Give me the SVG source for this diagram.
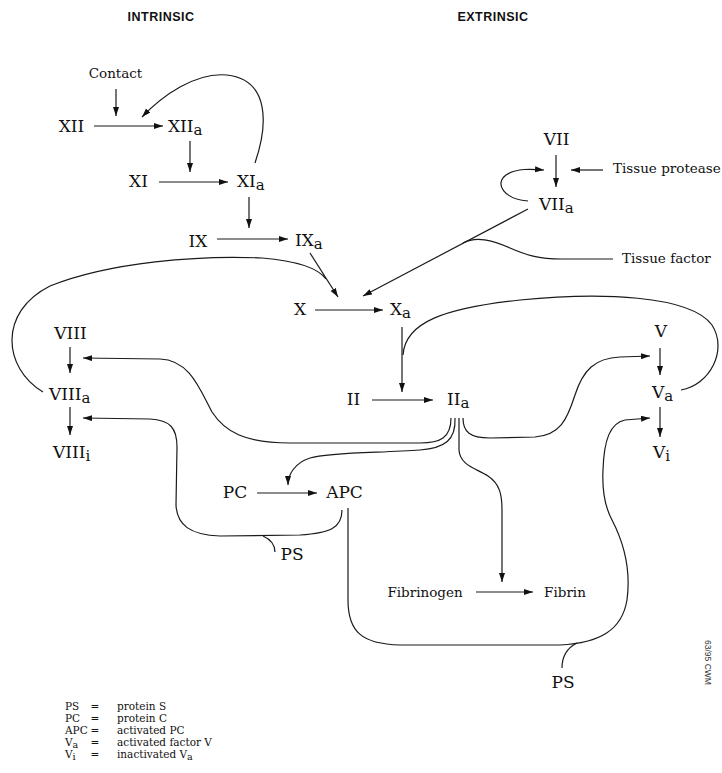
<svg xmlns="http://www.w3.org/2000/svg" width="722" height="773" viewBox="0 0 722 773">
<defs>
<marker id="ah" markerUnits="userSpaceOnUse" markerWidth="10" markerHeight="8" refX="9" refY="3" orient="auto">
<path d="M0,0 L9,3 L0,6 z" fill="#111"/>
</marker>
<style>
.n{font-family:"DejaVu Serif","Liberation Serif",serif;font-size:17px;fill:#111}
.w{font-family:"DejaVu Serif","Liberation Serif",serif;font-size:13.5px;fill:#111}
.h{font-family:"Liberation Sans",Arial,sans-serif;font-size:12.5px;font-weight:bold;letter-spacing:0.5px;fill:#111}
.lg{font-family:"DejaVu Serif","Liberation Serif",serif;font-size:10.5px;fill:#111}
.s{font-size:15px}
.ls{font-size:9.5px}
.c path{fill:none;stroke:#1a1a1a;stroke-width:1.2}
.c .a{marker-end:url(#ah)}
</style>
</defs>
<rect width="722" height="773" fill="#fff"/>

<g id="headers">
<text class="h" x="161" y="21" text-anchor="middle">INTRINSIC</text>
<text class="h" x="493" y="21" text-anchor="middle">EXTRINSIC</text>
</g>

<g class="c" id="connectors">
<path class="a" d="M116,89 V116"/>
<path class="a" d="M94,126 H163"/>
<path class="a" d="M255,163 C268,125 270,80 227,75 C195,72 162,96 142,117"/>
<path class="a" d="M190,141 V172"/>
<path class="a" d="M159,182 H228"/>
<path class="a" d="M249,197 V228"/>
<path class="a" d="M217,239 H288"/>
<path class="a" d="M310,253 L338,297"/>
<path d="M43,392 C3,368 -2,312 50,286 C110,262 200,255 262,258 C298,261 318,268 326,279"/>
<path class="a" d="M528,209 L363,296"/>
<path d="M463,243 C476,236 492,240 510,248 C526,255 538,259 562,259 H613"/>
<path class="a" d="M556,155 V187"/>
<path class="a" d="M603,170 H571"/>
<path class="a" d="M528,201 C504,199 494,184 506,175 C516,168 532,169 544,170"/>
<path class="a" d="M315,310 H383"/>
<path class="a" d="M402,327 V392"/>
<path d="M403,355 C405,322 445,308 520,300 C600,292 690,295 712,325 C728,350 710,385 681,390"/>
<path class="a" d="M660,348 V375"/>
<path class="a" d="M660,407 V437"/>
<path class="a" d="M372,400 H433"/>
<path class="a" d="M70,347 V373"/>
<path class="a" d="M70,407 V435"/>
<path class="a" d="M451,418 C451,438 440,443 420,443 L290,443 C245,443 225,432 212,412 C200,390 190,360 160,359 L83,358"/>
<path class="a" d="M455,418 C456,440 445,448 420,450 C380,453 330,452 310,458 C295,463 288,474 288,485"/>
<path class="a" d="M459,418 V450 C460,465 475,468 488,476 C500,484 502,495 502,510 V582"/>
<path class="a" d="M463,418 C463,432 470,438 490,438 L535,437 C560,435 567,420 575,395 C583,370 595,358 620,357 L650,356"/>
<path class="a" d="M257,493 H317"/>
<path class="a" d="M342,510 C342,528 330,533 300,535 L220,536 C190,535 177,525 176,505 L177,447 C177,428 170,420 150,419 L83,418"/>
<path d="M263,536 C272,540 275,545 275,552"/>
<path class="a" d="M348,508 V600 C348,632 362,644 400,645 L560,645 C600,643 622,630 627,600 C631,570 625,545 612,520 C604,505 602,490 603,470 C604,440 610,423 625,420 L650,418"/>
<path d="M577,643 C567,648 562,656 562,668"/>
<path class="a" d="M476,592 H533"/>
</g>

<g id="contact"><text class="w" x="115.5" y="78" text-anchor="middle">Contact</text></g>
<g id="XII"><text class="n" x="71.5" y="132" text-anchor="middle">XII</text></g>
<g id="XIIa"><text class="n" x="168" y="132">XII<tspan class="s" dy="2.5">a</tspan></text></g>
<g id="XI"><text class="n" x="138.5" y="187" text-anchor="middle">XI</text></g>
<g id="XIa"><text class="n" x="237" y="187">XI<tspan class="s" dy="2.5">a</tspan></text></g>
<g id="IX"><text class="n" x="198" y="247" text-anchor="middle">IX</text></g>
<g id="IXa"><text class="n" x="295" y="246">IX<tspan class="s" dy="2.5">a</tspan></text></g>
<g id="VII"><text class="n" x="556.5" y="145" text-anchor="middle">VII</text></g>
<g id="tissue-protease"><text class="w" x="613" y="173">Tissue protease</text></g>
<g id="VIIa"><text class="n" x="539" y="210">VII<tspan class="s" dy="2.5">a</tspan></text></g>
<g id="tissue-factor"><text class="w" x="622" y="263">Tissue factor</text></g>
<g id="X"><text class="n" x="300" y="315" text-anchor="middle">X</text></g>
<g id="Xa"><text class="n" x="390" y="315">X<tspan class="s" dy="2.5">a</tspan></text></g>
<g id="VIII"><text class="n" x="70.5" y="339" text-anchor="middle">VIII</text></g>
<g id="VIIIa"><text class="n" x="49" y="400">VIII<tspan class="s" dy="2.5">a</tspan></text></g>
<g id="VIIIi"><text class="n" x="53" y="458">VIII<tspan class="s" dy="2.5">i</tspan></text></g>
<g id="II"><text class="n" x="353.5" y="405" text-anchor="middle">II</text></g>
<g id="IIa"><text class="n" x="447" y="405">II<tspan class="s" dy="2.5">a</tspan></text></g>
<g id="V"><text class="n" x="661" y="337" text-anchor="middle">V</text></g>
<g id="Va"><text class="n" x="652" y="398">V<tspan class="s" dy="2.5">a</tspan></text></g>
<g id="Vi"><text class="n" x="653" y="458">V<tspan class="s" dy="2.5">i</tspan></text></g>
<g id="PC"><text class="n" x="235" y="498" text-anchor="middle">PC</text></g>
<g id="APC"><text class="n" x="344.5" y="498" text-anchor="middle">APC</text></g>
<g id="PS-1"><text class="n" x="292" y="560" text-anchor="middle">PS</text></g>
<g id="fibrinogen"><text class="w" x="425" y="597" text-anchor="middle">Fibrinogen</text></g>
<g id="fibrin"><text class="w" x="565" y="597" text-anchor="middle">Fibrin</text></g>
<g id="PS-2"><text class="n" x="563" y="688" text-anchor="middle">PS</text></g>

<g id="legend">
<text class="lg" x="65" y="710">PS</text><text class="lg" x="95" y="710" text-anchor="middle">=</text><text class="lg" x="117" y="710">protein S</text>
<text class="lg" x="65" y="722">PC</text><text class="lg" x="95" y="722" text-anchor="middle">=</text><text class="lg" x="117" y="722">protein C</text>
<text class="lg" x="65" y="734">APC</text><text class="lg" x="95" y="734" text-anchor="middle">=</text><text class="lg" x="117" y="734">activated PC</text>
<text class="lg" x="65" y="746">V<tspan class="ls" dy="1.5">a</tspan></text><text class="lg" x="95" y="746" text-anchor="middle">=</text><text class="lg" x="117" y="746">activated factor V</text>
<text class="lg" x="65" y="758">V<tspan class="ls" dy="1.5">i</tspan></text><text class="lg" x="95" y="758" text-anchor="middle">=</text><text class="lg" x="117" y="758">inactivated V<tspan class="ls" dy="1.5">a</tspan></text>
</g>

<g id="code"><text x="705" y="640" transform="rotate(90 705 640)" font-family="Liberation Sans,Arial,sans-serif" font-size="8.5" fill="#333">63/95 CWM</text></g>
</svg>
